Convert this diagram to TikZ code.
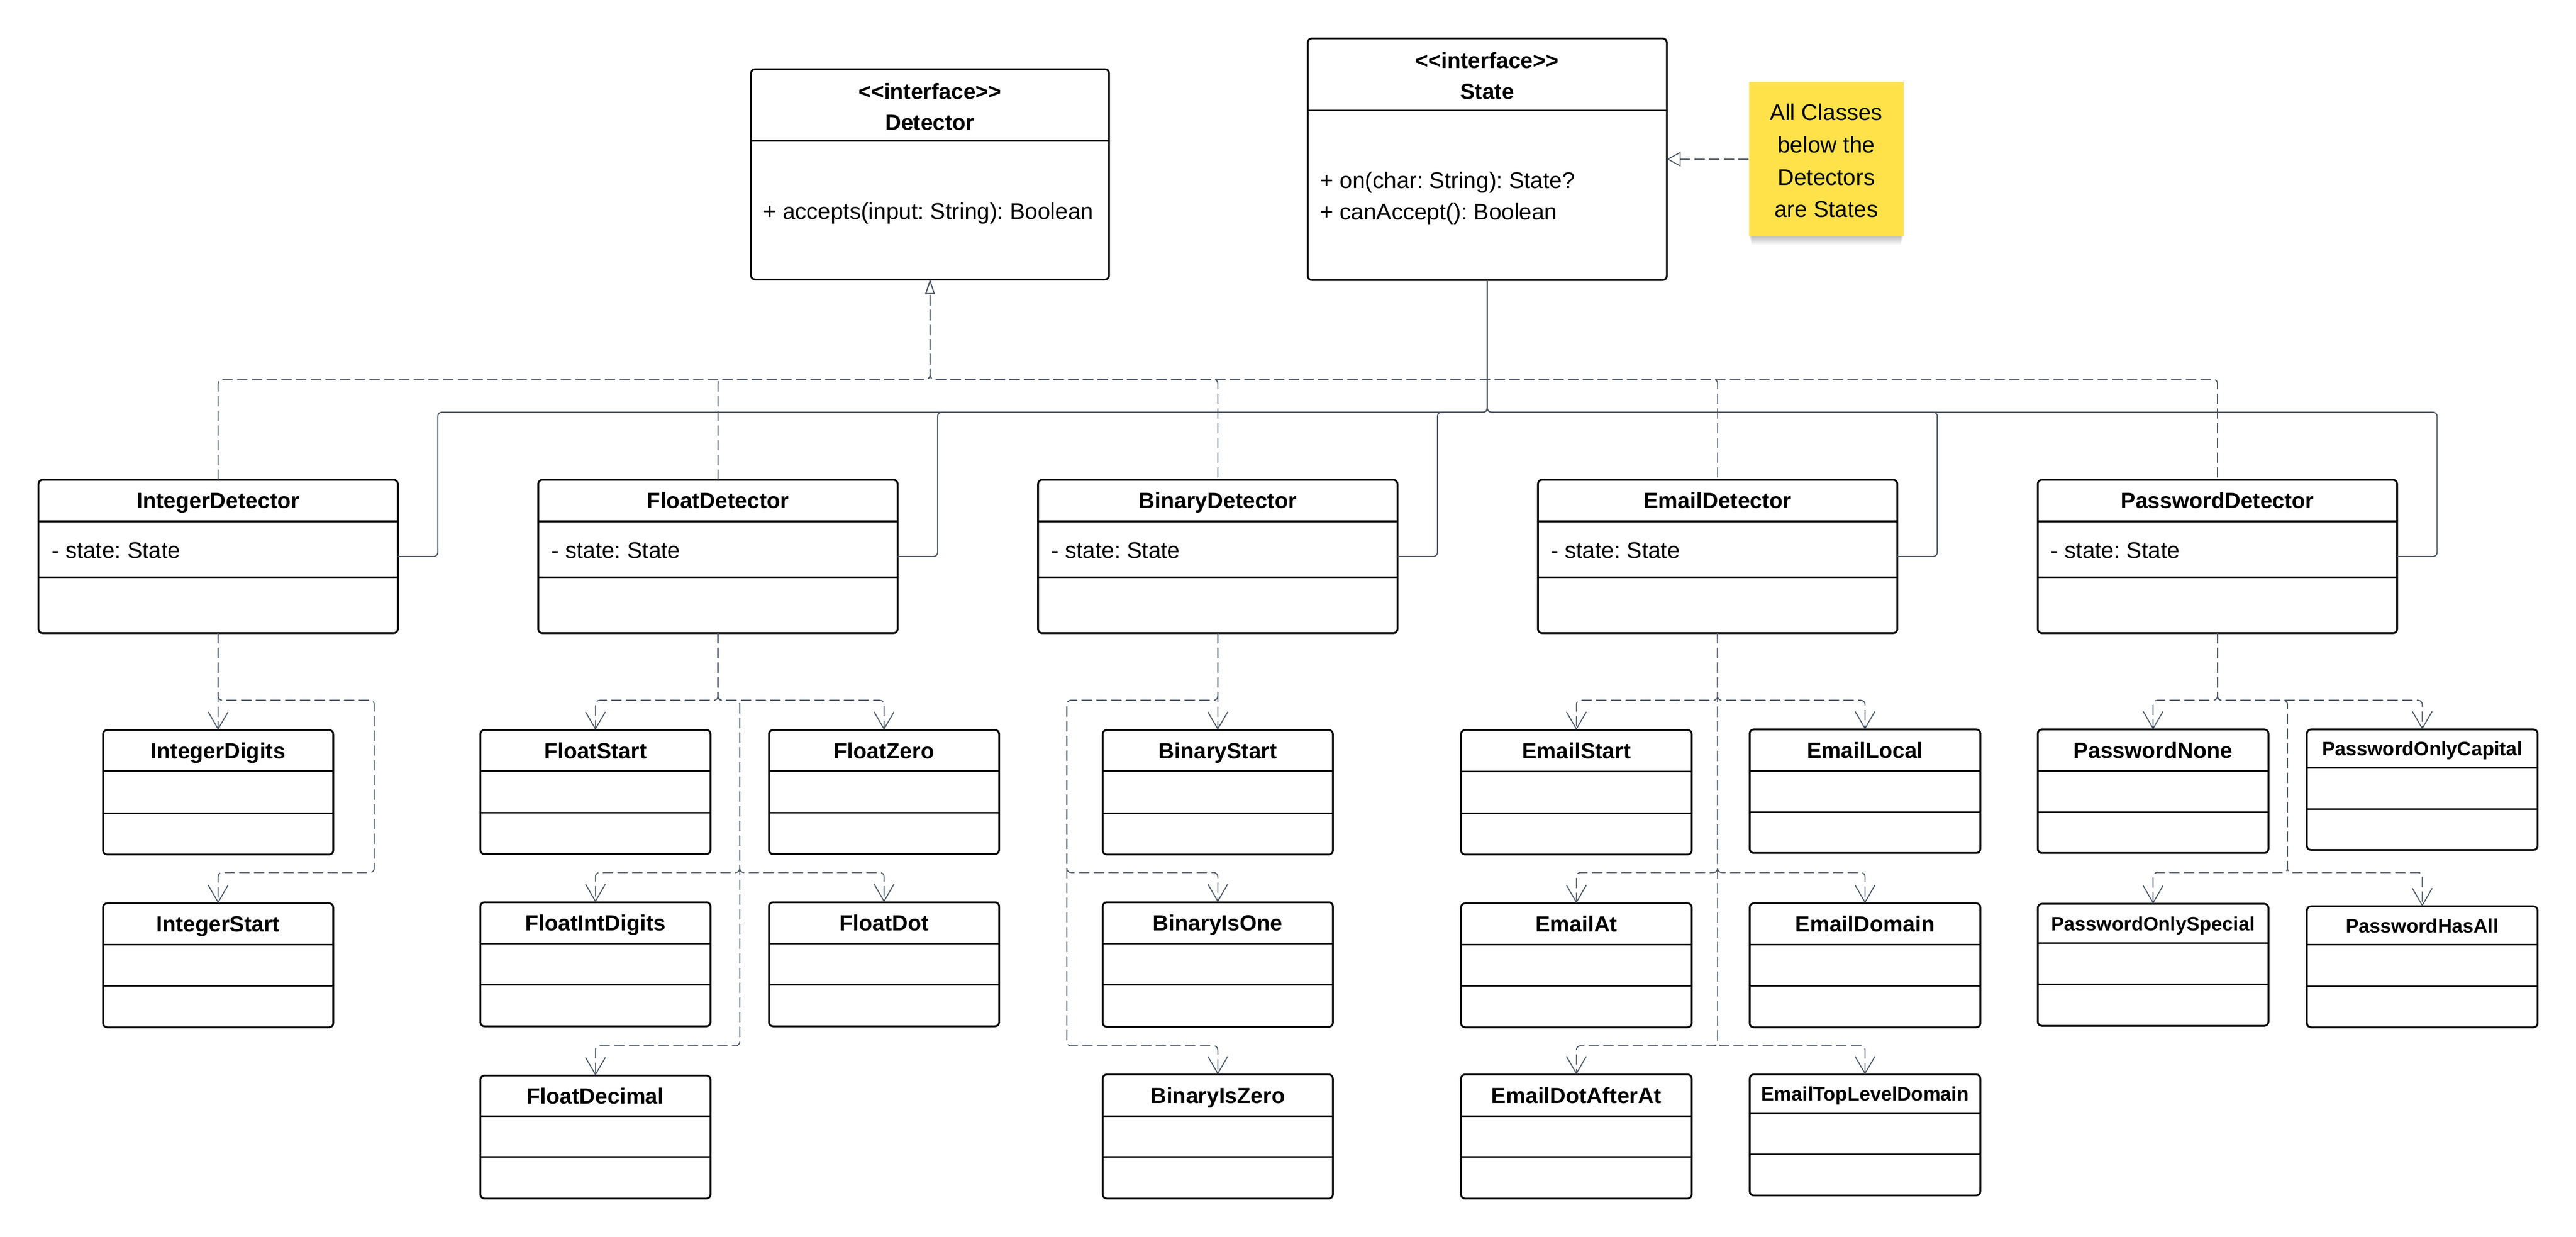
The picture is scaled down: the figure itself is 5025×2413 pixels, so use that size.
\documentclass[tikz,border=0pt]{standalone}
\usepackage{fontspec}
\setmainfont{Liberation Sans}[Ligatures=TeXOff]
\usetikzlibrary{arrows.meta}
\definecolor{conn}{RGB}{75,85,99}
\definecolor{noteY}{RGB}{255,226,74}
\frenchspacing

\tikzset{
  clsbox/.style={draw=black, line width=1pt, rounded corners=0.08cm, fill=white, inner sep=0pt, outer sep=0pt},
  sepline/.style={draw=black, line width=0.9pt},
  ttl/.style={anchor=base, inner sep=0pt, yshift=-4.37pt, font=\fontsize{12.2pt}{14pt}\selectfont\bfseries},
  ttls/.style={anchor=base, inner sep=0pt, yshift=-3.87pt, font=\fontsize{10.8pt}{13pt}\selectfont\bfseries},
  ifc/.style={anchor=base, inner sep=0pt, font=\fontsize{12.2pt}{14pt}\selectfont\bfseries},
  mem/.style={anchor=base west, inner sep=0pt, font=\fontsize{12.6pt}{15pt}\selectfont},
  dsh/.style={dash pattern=on 5.7pt off 2.45927pt},
  dep/.style={draw=conn, line width=0.55pt, dsh, rounded corners=0.08cm, -{Straight Barb[length=9.5pt,width=11pt]}},
  real/.style={draw=conn, line width=0.55pt, dsh, rounded corners=0.08cm, -{Triangle[open,fill=white,length=8pt,width=5.2pt]}},
  realR/.style={real, dash phase=6.8455pt},
  realn/.style={draw=conn, line width=0.55pt, dsh, -{Triangle[open,fill=white,length=7.7pt,width=8.2pt]}},
  assoc/.style={draw=conn, line width=0.6pt, rounded corners=0.08cm},
  notebox/.style={minimum width=3.01cm, minimum height=3.01cm, inner sep=0pt, fill=noteY},
  notetxt/.style={align=center, inner sep=0pt, font=\fontsize{12.6pt}{17.93pt}\selectfont},
}

\newcommand\umlcls[9]{%
  \pgfmathsetmacro\clsW{(#4-#2)*0.01}%
  \pgfmathsetmacro\clsH{(#7-#3)*0.01}%
  \pgfmathsetmacro\clsX{(#2+#4)/2}%
  \pgfmathsetmacro\clsY{(#3+#5)/2}%
  \node[clsbox, minimum width=\clsW cm, minimum height=\clsH cm, anchor=north west] (#1) at (#2,#3) {};%
  \draw[sepline] (#2,#5) -- (#4,#5);%
  \draw[sepline] (#2,#6) -- (#4,#6);%
  \node[#9] (#1-t) at (\clsX,\clsY) {#8};%
}

\begin{document}
\begin{tikzpicture}[x=0.01cm,y=-0.01cm]
\fill[white] (0,0) rectangle (5025,2413);
\useasboundingbox (0,0) rectangle (5025,2413);

% interfaces
\node[clsbox, minimum width=6.98cm, minimum height=4.10cm, anchor=north west] (det) at (1465,135) {};
\draw[sepline] (1465,275) -- (2163,275);
\node[ifc] (det-s) at (1814,193) {<<interface>>};
\node[ifc] (det-t) at (1814,253.4) {Detector};
\node[mem] (det-m) at (1488,428) {+ accepts(input: String): Boolean};

\node[clsbox, minimum width=7.00cm, minimum height=4.71cm, anchor=north west] (st) at (2551,75) {};
\draw[sepline] (2551,216) -- (3251,216);
\node[ifc] (st-s) at (2901,133.4) {<<interface>>};
\node[ifc] (st-t) at (2901,193) {State};
\node[mem] (st-m1) at (2575,367) {+ on(char: String): State?};
\node[mem] (st-m2) at (2575,429) {+ canAccept(): Boolean};

% note with soft shadow
\foreach \i in {1,...,8}
  \fill[black, opacity=0.03] (3412+0.6*\i,200+\i) rectangle (3713-0.6*\i,461+2*\i);
\node[notebox] (note) at (3562.5,310.5) {};
\node[notetxt] (notet) at (3562.5,313.5) {All Classes\\below the\\Detectors\\are States};

% detectors
\umlcls{id}{75}{936}{776}{1017}{1126}{1235}{IntegerDetector}{ttl}
\node[mem] (id-a) at (100,1089) {- state: State};
\umlcls{fd}{1050}{936}{1751}{1017}{1126}{1235}{FloatDetector}{ttl}
\node[mem] (fd-a) at (1075,1089) {- state: State};
\umlcls{bd}{2025}{936}{2726}{1017}{1126}{1235}{BinaryDetector}{ttl}
\node[mem] (bd-a) at (2050,1089) {- state: State};
\umlcls{ed}{3000}{936}{3701}{1017}{1126}{1235}{EmailDetector}{ttl}
\node[mem] (ed-a) at (3025,1089) {- state: State};
\umlcls{pd}{3975}{936}{4676}{1017}{1126}{1235}{PasswordDetector}{ttl}
\node[mem] (pd-a) at (4000,1089) {- state: State};

% states
\umlcls{intd}{201}{1424}{650}{1504}{1586}{1667}{IntegerDigits}{ttl}
\umlcls{ints}{201}{1762}{650}{1843}{1923}{2004}{IntegerStart}{ttl}
\umlcls{fs}{937}{1424}{1386}{1504}{1585}{1666}{FloatStart}{ttl}
\umlcls{fz}{1500}{1424}{1949}{1504}{1585}{1666}{FloatZero}{ttl}
\umlcls{fid}{937}{1760}{1386}{1841}{1921}{2002}{FloatIntDigits}{ttl}
\umlcls{fdot}{1500}{1760}{1949}{1841}{1921}{2002}{FloatDot}{ttl}
\umlcls{fdec}{937}{2098}{1386}{2177}{2257}{2338}{FloatDecimal}{ttl}
\umlcls{bs}{2151}{1424}{2600}{1504}{1586}{1667}{BinaryStart}{ttl}
\umlcls{bio}{2151}{1760}{2600}{1841}{1921}{2003}{BinaryIsOne}{ttl}
\umlcls{biz}{2151}{2096}{2600}{2177}{2257}{2338}{BinaryIsZero}{ttl}
\umlcls{es}{2850}{1424}{3300}{1505}{1586}{1667}{EmailStart}{ttl}
\umlcls{el}{3413}{1423}{3863}{1504}{1584}{1664}{EmailLocal}{ttl}
\umlcls{eat}{2850}{1762}{3300}{1843}{1923}{2004}{EmailAt}{ttl}
\umlcls{edom}{3413}{1762}{3863}{1843}{1923}{2004}{EmailDomain}{ttl}
\umlcls{edot}{2850}{2096}{3300}{2177}{2257}{2338}{EmailDotAfterAt}{ttl}
\umlcls{etld}{3413}{2096}{3863}{2172}{2252}{2332}{EmailTopLevelDomain}{ttls}
\umlcls{pn}{3975}{1423}{4425}{1504}{1584}{1664}{PasswordNone}{ttl}
\umlcls{pc}{4500}{1423}{4950}{1498}{1578}{1658}{PasswordOnlyCapital}{ttls}
\umlcls{psp}{3975}{1763}{4425}{1840}{1920}{2001}{PasswordOnlySpecial}{ttls}
\umlcls{pha}{4500}{1768}{4950}{1843}{1924}{2004}{PasswordHasAll}{ttls}

% bus coordinates
\coordinate (rbus) at (0,740);
\coordinate (abus) at (0,804);
\coordinate (r1) at (0,1366);
\coordinate (r2) at (0,1702);
\coordinate (r3) at (0,2040);
\coordinate (ib) at (730,0);
\coordinate (fb) at (1443,0);
\coordinate (bb) at (2081,0);
\coordinate (pb) at (4462,0);

% note -> State
\draw[realn] (note.west) -- (st.east |- note.west);

% realization: detectors -> Detector
\draw[real] (id.north) |- (rbus -| det.south) -- (det.south);
\draw[real] (fd.north) |- (rbus -| det.south) -- (det.south);
\draw[realR] (bd.north) |- (rbus -| det.south) -- (det.south);
\draw[realR] (ed.north) |- (rbus -| det.south) -- (det.south);
\draw[realR] (pd.north) |- (rbus -| det.south) -- (det.south);

% association: detectors -> State
\draw[assoc] (id.east) -- ++(78,0) |- (abus -| st.south) -- (st.south);
\draw[assoc] (fd.east) -- ++(78,0) |- (abus -| st.south) -- (st.south);
\draw[assoc] (bd.east) -- ++(78,0) |- (abus -| st.south) -- (st.south);
\draw[assoc] (ed.east) -- ++(78,0) |- (abus -| st.south) -- (st.south);
\draw[assoc] (pd.east) -- ++(78,0) |- (abus -| st.south) -- (st.south);

% Integer
\draw[dep] (id.south) -- (intd.north);
\draw[dep] (id.south) -- (id.south |- r1) -- (ib |- r1) -- (ib |- r2) -| (ints.north);
% Float
\draw[dep] (fd.south) -- (fd.south |- r1) -| (fs.north);
\draw[dep] (fd.south) -- (fd.south |- r1) -| (fz.north);
\draw[dep] (fd.south) -- (fd.south |- r1) -- (fb |- r1) -- (fb |- r2) -| (fid.north);
\draw[dep] (fd.south) -- (fd.south |- r1) -- (fb |- r1) -- (fb |- r2) -| (fdot.north);
\draw[dep] (fd.south) -- (fd.south |- r1) -- (fb |- r1) -- (fb |- r3) -| (fdec.north);
% Binary
\draw[dep] (bd.south) -- (bs.north);
\draw[dep] (bd.south) -- (bd.south |- r1) -- (bb |- r1) -- (bb |- r2) -| (bio.north);
\draw[dep] (bd.south) -- (bd.south |- r1) -- (bb |- r1) -- (bb |- r3) -| (biz.north);
% Email
\draw[dep] (ed.south) -- (ed.south |- r1) -| (es.north);
\draw[dep] (ed.south) -- (ed.south |- r1) -| (el.north);
\draw[dep] (ed.south) -- (ed.south |- r2) -| (eat.north);
\draw[dep] (ed.south) -- (ed.south |- r2) -| (edom.north);
\draw[dep] (ed.south) -- (ed.south |- r3) -| (edot.north);
\draw[dep] (ed.south) -- (ed.south |- r3) -| (etld.north);
% Password
\draw[dep] (pd.south) -- (pd.south |- r1) -| (pn.north);
\draw[dep] (pd.south) -- (pd.south |- r1) -| (pc.north);
\draw[dep] (pd.south) -- (pd.south |- r1) -- (pb |- r1) -- (pb |- r2) -| (psp.north);
\draw[dep] (pd.south) -- (pd.south |- r1) -- (pb |- r1) -- (pb |- r2) -| (pha.north);
\end{tikzpicture}
\end{document}
